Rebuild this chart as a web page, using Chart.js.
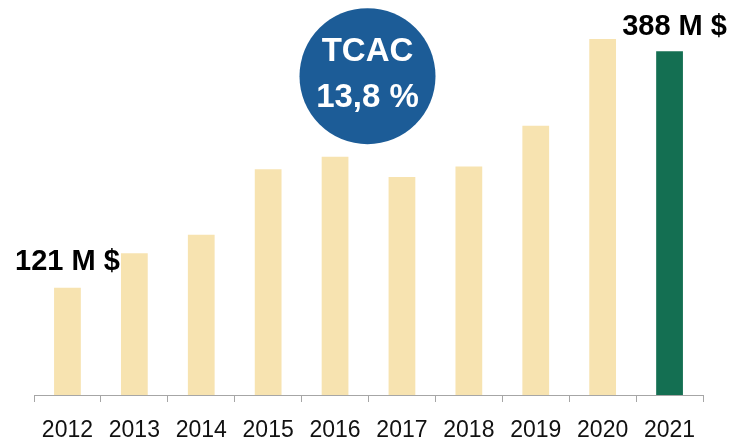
<!DOCTYPE html>
<html>
<head>
<meta charset="utf-8">
<script src="https://cdn.jsdelivr.net/npm/chart.js@4/dist/chart.umd.min.js"></script>
<style>
  html, body { margin: 0; padding: 0; background: #fff; }
  #wrap { width: 733px; height: 442px; }
</style>
</head>
<body>
<div id="wrap"><canvas id="tcac-chart" width="733" height="442"></canvas></div>
<script>
  'use strict';

  // data (M $)
  const years = ['2012', '2013', '2014', '2015', '2016', '2017', '2018', '2019', '2020', '2021'];
  const revenue = [121, 160, 181, 255, 269, 246, 258, 304, 402, 388];
  const firstLabel = '121 M $';
  const lastLabel = '388 M $';
  const badgeLines = ['TCAC', '13,8 %'];

  const light = '#F7E3B0';
  const dark = '#146F52';
  const barColors = years.map((y, i) => i === years.length - 1 ? dark : light);

  const fontFamily = '"Liberation Sans", Arial, sans-serif';

  // Handling the value labels and the TCAC badge
  const annotations = {
    id: 'annotations',
    afterDatasetsDraw(chart) {
      const ctx = chart.ctx;
      const x = chart.scales.x;
      const y = chart.scales.y;
      const last = revenue.length - 1;

      ctx.save();
      ctx.fillStyle = '#000';
      ctx.font = 'bold 29px ' + fontFamily;
      ctx.textAlign = 'center';
      ctx.textBaseline = 'middle';
      ctx.fillText(firstLabel, x.getPixelForValue(0), y.getPixelForValue(revenue[0]) - 26);
      ctx.fillText(lastLabel, x.getPixelForValue(last) + 5, y.getPixelForValue(revenue[last]) - 24);

      // badge sits between 2016 and 2017
      const cx = (x.getPixelForValue(4) + x.getPixelForValue(5)) / 2 - 1;
      const cy = y.getPixelForValue(360);
      ctx.beginPath();
      ctx.arc(cx, cy, 68, 0, Math.PI * 2);
      ctx.fillStyle = '#1C5C97';
      ctx.fill();
      ctx.fillStyle = '#fff';
      ctx.font = 'bold 33px ' + fontFamily;
      ctx.fillText(badgeLines[0], cx, cy - 24);
      ctx.fillText(badgeLines[1], cx, cy + 22);
      ctx.restore();
    }
  };

  new Chart(document.getElementById('tcac-chart'), {
    type: 'bar',
    data: {
      labels: years,
      datasets: [{
        data: revenue,
        backgroundColor: barColors,
        hoverBackgroundColor: barColors,
        borderWidth: 0,
        barPercentage: 0.4,
        categoryPercentage: 1
      }]
    },
    options: {
      responsive: false,
      animation: false,
      devicePixelRatio: 1,
      layout: {
        padding: { left: 34, right: 30, top: 23, bottom: 0 }
      },
      scales: {
        y: {
          display: false,
          min: 0,
          max: 420
        },
        x: {
          afterFit(scale) {
            scale.height = 47;
          },
          grid: {
            display: true,
            offset: true,
            drawOnChartArea: false,
            drawTicks: true,
            tickLength: 7,
            color: '#A6A6A6',
            lineWidth: 1
          },
          border: {
            display: true,
            color: '#A6A6A6',
            width: 1
          },
          ticks: {
            color: '#111',
            padding: 17,
            maxRotation: 0,
            font: { family: fontFamily, size: 23, lineHeight: 1 }
          }
        }
      },
      plugins: {
        legend: { display: false },
        tooltip: { enabled: false }
      }
    },
    plugins: [annotations]
  });
</script>
</body>
</html>
